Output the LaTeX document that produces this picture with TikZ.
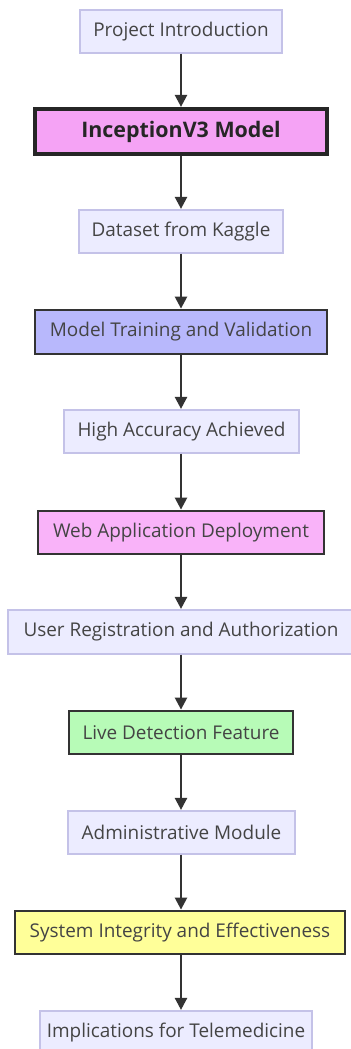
\documentclass[tikz,border=0pt]{standalone}
\usepackage{fontspec}
\setmainfont{Open Sans}
\usetikzlibrary{arrows.meta}
\definecolor{lightfill}{HTML}{ECECFF}
\definecolor{lightdraw}{HTML}{C4C2E8}
\definecolor{txtgrey}{HTML}{444444}
\definecolor{darkline}{HTML}{333333}
\definecolor{violetfill}{HTML}{F5A3F5}
\definecolor{bluefill}{HTML}{B8B8FC}
\definecolor{pinkfill}{HTML}{F9B3F9}
\definecolor{greenfill}{HTML}{B7FBB7}
\definecolor{yellowfill}{HTML}{FFFF99}
\tikzset{
  box/.style={rectangle, inner sep=0pt, text=txtgrey, font=\fontsize{19}{22}\selectfont},
  lightbox/.style={box, fill=lightfill, draw=lightdraw, line width=1.2bp},
  colbox/.style={box, draw=darkline, line width=1.8bp},
  flow/.style={draw=darkline, line width=2.4bp, -{Triangle[width=12bp,length=12bp]}, shorten >=0.5bp}
}
\begin{document}
\begin{tikzpicture}[x=1bp,y=-1bp]
\useasboundingbox (0,0) rectangle (350,1049);
\fill[white] (0,0) rectangle (350,1049);
\node[lightbox, minimum width=202bp, minimum height=43bp] (n1) at (181,31.5) {Project Introduction};
\node[colbox, fill=violetfill, line width=3.2bp, draw=black!85, text=black!85, minimum width=292bp, minimum height=45bp, font=\fontsize{21.5}{24}\selectfont\bfseries] (n2) at (181,131.5) {InceptionV3 Model};
\node[lightbox, minimum width=204bp, minimum height=43bp] (n3) at (181,231.5) {Dataset from Kaggle};
\node[colbox, fill=bluefill, minimum width=292bp, minimum height=44bp] (n4) at (181,332) {Model Training and Validation};
\node[lightbox, minimum width=235bp, minimum height=43bp] (n5) at (181.5,431.5) {High Accuracy Achieved};
\node[colbox, fill=pinkfill, minimum width=286bp, minimum height=43bp] (n6) at (181,532.5) {Web Application Deployment};
\node[lightbox, minimum width=346bp, minimum height=44bp] (n7) at (181,632) {User Registration and Authorization};
\node[colbox, fill=greenfill, minimum width=224bp, minimum height=43bp] (n8) at (181,732.5) {Live Detection Feature};
\node[lightbox, minimum width=227bp, minimum height=43bp] (n9) at (181.5,832.5) {Administrative Module};
\node[colbox, fill=yellowfill, minimum width=330bp, minimum height=43bp] (n10) at (180,932.5) {System Integrity and Effectiveness};
\node[lightbox, minimum width=272bp, minimum height=43bp] (n11) at (176,1032.5) {Implications for Telemedicine};
\foreach \a/\b in {n1/n2,n2/n3,n3/n4,n4/n5,n5/n6,n6/n7,n7/n8,n8/n9,n9/n10,n10/n11}{
  \draw[flow] (\a.south -| 181,0) -- (\b.north -| 181,0);
}
\end{tikzpicture}
\end{document}
